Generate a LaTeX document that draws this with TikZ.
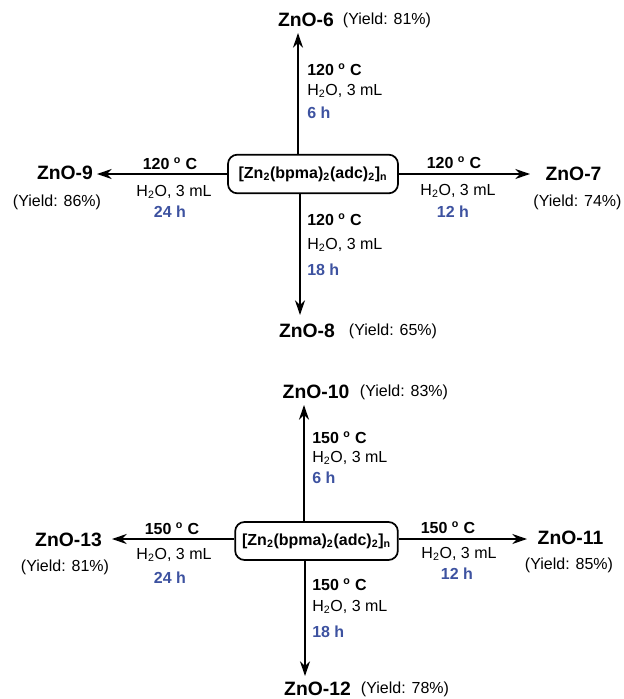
\documentclass[tikz,border=0pt]{standalone}
\usepackage{fontspec}
\setmainfont{Liberation Sans}
\usetikzlibrary{arrows.meta}
\definecolor{timeblue}{RGB}{61,82,160}
\tikzset{
  prod/.style={font=\fontsize{14.5}{17}\selectfont\bfseries, inner sep=0pt},
  yieldlbl/.style={font=\fontsize{12}{14}\selectfont, inner sep=0pt},
  templbl/.style={font=\fontsize{12}{14}\selectfont\bfseries, inner sep=0pt},
  solvlbl/.style={font=\fontsize{12}{14}\selectfont, inner sep=0pt},
  hourlbl/.style={font=\fontsize{12}{14}\selectfont\bfseries, text=timeblue, inner sep=0pt},
  precursor/.style={draw, line width=1.3pt, rounded corners=7pt, inner sep=0pt,
    font=\fontsize{12}{14}\selectfont\bfseries},
  rxn/.style={line width=1.3pt, -{Stealth[length=11pt,width=7.5pt,inset=3.5pt]}}
}
\newcommand{\complexname}{[Zn\textsubscript{2}(bpma)\textsubscript{2}(adc)\textsubscript{2}]\textsubscript{n}}
\newcommand{\tempC}[1]{#1 \textsuperscript{o} C}
\newcommand{\water}{H\textsubscript{2}O, 3 mL}
\begin{document}
\begin{tikzpicture}[x=0.75pt,y=-0.75pt]
\useasboundingbox (0,0) rectangle (624,699);

% ---------- series at 120 C ----------
\node[precursor, minimum width=127.5pt, minimum height=29pt] (b1) at (313,174) {\complexname};

% up: 6 h
\node[prod] (z6) at (306,20) {ZnO-6};
\node[yieldlbl] (y6) at (387,20) {(Yield: 81\%)};
\coordinate (a6) at (298,33);
\draw[rxn] (b1.north -| a6) -- (a6);
\node[templbl, anchor=west] (t6) at (307,70) {\tempC{120}};
\node[solvlbl, anchor=west] (s6) at (307,91) {\water};
\node[hourlbl, anchor=west] (h6) at (307,113) {6 h};

% left: 24 h
\node[prod] (z9) at (65,173) {ZnO-9};
\node[yieldlbl] (y9) at (57,202) {(Yield: 86\%)};
\coordinate (a9) at (97,174);
\draw[rxn] (b1.west) -- (a9);
\node[templbl] (t9) at (170,164) {\tempC{120}};
\node[solvlbl] (s9) at (174,192) {\water};
\node[hourlbl] (h9) at (170,212) {24 h};

% right: 12 h
\node[prod] (z7) at (573.5,174) {ZnO-7};
\node[yieldlbl] (y7) at (577.5,202) {(Yield: 74\%)};
\coordinate (a7) at (530,174);
\draw[rxn] (b1.east) -- (a7);
\node[templbl] (t7) at (454,163) {\tempC{120}};
\node[solvlbl] (s7) at (458,191) {\water};
\node[hourlbl] (h7) at (453,212) {12 h};

% down: 18 h
\coordinate (a8) at (300,315);
\draw[rxn] (b1.south -| a8) -- (a8);
\node[templbl, anchor=west] (t8) at (307,220) {\tempC{120}};
\node[solvlbl, anchor=west] (s8) at (307,245) {\water};
\node[hourlbl, anchor=west] (h8) at (307,270) {18 h};
\node[prod] (z8) at (307,331) {ZnO-8};
\node[yieldlbl] (y8) at (393,331) {(Yield: 65\%)};

% ---------- series at 150 C ----------
\node[precursor, minimum width=122pt, minimum height=28.5pt] (b2) at (316.5,541) {\complexname};

% up: 6 h
\node[prod] (z10) at (316,392) {ZnO-10};
\node[yieldlbl] (y10) at (404,392) {(Yield: 83\%)};
\coordinate (a10) at (304,405);
\draw[rxn] (b2.north -| a10) -- (a10);
\node[templbl, anchor=west] (t10) at (312,438) {\tempC{150}};
\node[solvlbl, anchor=west] (s10) at (312,458) {\water};
\node[hourlbl, anchor=west] (h10) at (312,478) {6 h};

% left: 24 h
\node[prod] (z13) at (68.5,540) {ZnO-13};
\node[yieldlbl] (y13) at (65,567) {(Yield: 81\%)};
\coordinate (a13) at (112,539);
\draw[rxn] (b2.west |- a13) -- (a13);
\node[templbl] (t13) at (172,529) {\tempC{150}};
\node[solvlbl] (s13) at (174,555) {\water};
\node[hourlbl] (h13) at (170,578) {24 h};

% right: 12 h
\node[prod] (z11) at (570.5,538) {ZnO-11};
\node[yieldlbl] (y11) at (569,565) {(Yield: 85\%)};
\coordinate (a11) at (527,539);
\draw[rxn] (b2.east |- a11) -- (a11);
\node[templbl] (t11) at (448,528) {\tempC{150}};
\node[solvlbl] (s11) at (459,554) {\water};
\node[hourlbl] (h11) at (457,574) {12 h};

% down: 18 h
\coordinate (a12) at (305,676);
\draw[rxn] (b2.south -| a12) -- (a12);
\node[templbl, anchor=west] (t12) at (312,585) {\tempC{150}};
\node[solvlbl, anchor=west] (s12) at (312,607) {\water};
\node[hourlbl, anchor=west] (h12) at (312,632) {18 h};
\node[prod] (z12) at (317.5,689) {ZnO-12};
\node[yieldlbl] (y12) at (405,689) {(Yield: 78\%)};
\end{tikzpicture}
\end{document}
